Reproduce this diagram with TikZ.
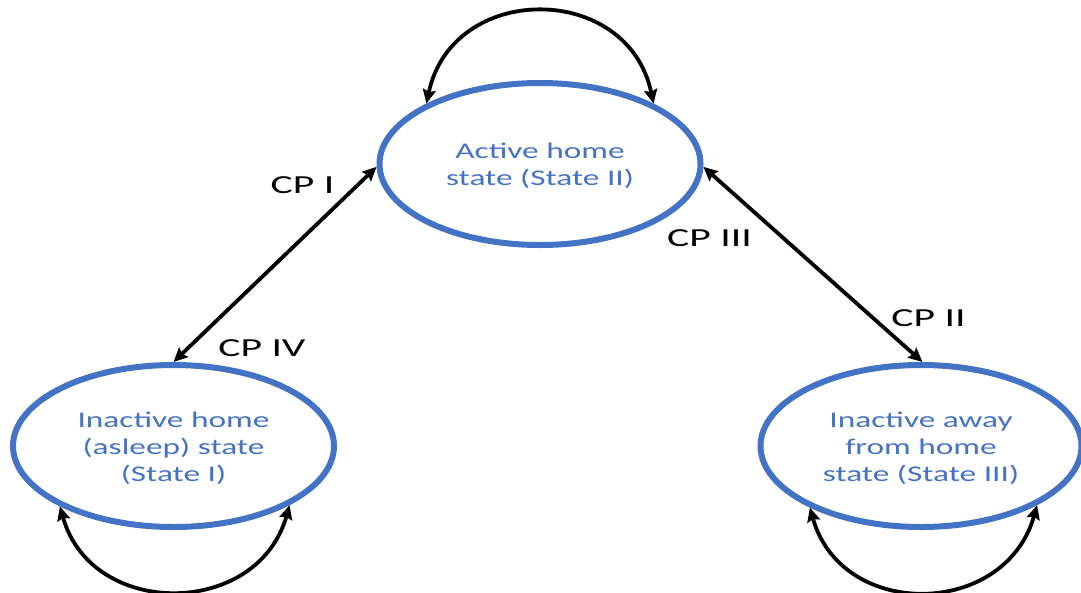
\documentclass[tikz,border=0pt]{standalone}
\usepackage{fontspec}
\usepackage{graphicx}
\setmainfont{Carlito}
\usetikzlibrary{shapes.geometric,arrows.meta}
\definecolor{stateblue}{HTML}{4472C4}
% text inside a state ellipse: widened Carlito, centred lines, set a little low
\newcommand\statetext[1]{\raisebox{-3pt}[\height][\depth]{\scalebox{1.49}[1]{\fontsize{22.4pt}{27pt}\selectfont\begin{tabular}{@{}c@{}}#1\end{tabular}}}}
% change-point labels beside the transitions
\newcommand\cplabel[1]{\scalebox{1.6}[1]{\fontsize{26pt}{30pt}\selectfont #1}}
\begin{document}
\begin{tikzpicture}[x=1pt,y=-1pt,
  state/.style={ellipse, draw=stateblue, line width=6pt, minimum width=321pt,
    minimum height=162pt, inner sep=0pt, text=stateblue},
  link/.style={line width=3.8pt,
    {Stealth[length=14pt,width=13pt,inset=2pt]}-{Stealth[length=14pt,width=13pt,inset=2pt]}},
  cp/.style={inner sep=0pt, text=black}]
\useasboundingbox (0,0) rectangle (1081,592);

% states
\node[state] (act)  at (540,164)   {\statetext{Active home\\state (State II)}};
\node[state] (asl)  at (173.5,446) {\statetext{Inactive home\\(asleep) state\\(State I)}};
\node[state] (away) at (921,446)   {\statetext{Inactive away\\from home\\state (State III)}};

% transitions between states
\draw[link] (act.181.4) -- (asl.north);
\draw[link] (act.-1) -- (away.89);

% self transitions
\draw[link] (act.152.2) .. controls +(26,-122) and +(-26,-122) .. (act.28);
\draw[link] (asl.208.5) .. controls +(32,113) and +(-32,113) .. (asl.333.1);
\draw[link] (away.209.1) .. controls +(32,113) and +(-32,113) .. (away.333.6);

% change-point labels
\node[cp] (cp1) at (302.5,185) {\cplabel{CP I}};
\node[cp] (cp4) at (262,348)   {\cplabel{CP IV}};
\node[cp] (cp3) at (709.5,238) {\cplabel{CP III}};
\node[cp] (cp2) at (928.5,318) {\cplabel{CP II}};
\end{tikzpicture}
\end{document}
